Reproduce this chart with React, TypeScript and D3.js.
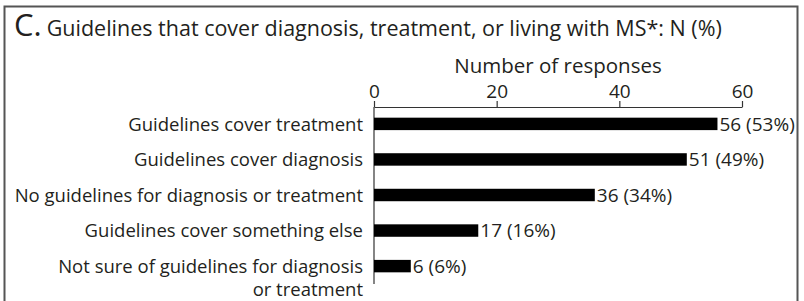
import React, { useEffect, useRef } from 'react';
import * as d3 from 'd3';

const categories = [
  ['Guidelines cover treatment'],
  ['Guidelines cover diagnosis'],
  ['No guidelines for diagnosis or treatment'],
  ['Guidelines cover something else'],
  ['Not sure of guidelines for diagnosis', 'or treatment'],
];
const counts = [56, 51, 36, 17, 6];
const percents = [53, 49, 34, 16, 6];
const xTicks = [0, 20, 40, 60];

const App = () => {
  const svgRef = useRef<SVGSVGElement | null>(null);

  useEffect(() => {
    const width = 804;
    const height = 301;
    const margin = { top: 107, left: 374, right: 62 };
    const font = "'Open Sans', sans-serif";
    const textColor = '#231f20';

    const svg = d3.select(svgRef.current);
    svg.selectAll('*').remove();
    svg.attr('width', width).attr('height', height);

    // frame
    svg.append('path')
      .attr('d', `M4.5,${height} V6.5 H797.5 V${height}`)
      .attr('fill', 'none')
      .attr('stroke', '#555')
      .attr('stroke-width', 2);

    const title = svg.append('text')
      .attr('x', 14)
      .attr('y', 36)
      .attr('font-family', font)
      .attr('fill', textColor);
    title.append('tspan').attr('font-size', 31).text('C.');
    title.append('tspan').attr('font-size', 21.5).attr('dx', 5)
      .text('Guidelines that cover diagnosis, treatment, or living with MS*: N (%)');

    const x = d3.scaleLinear().domain([0, 60]).range([margin.left, width - margin.right]);
    const y = d3.scaleBand()
      .domain(categories.map((_, i) => String(i)))
      .range([107, 283])
      .paddingInner(0.65)
      .paddingOuter(0.3);

    const axis = svg.append('g')
      .attr('transform', `translate(0,${margin.top})`)
      .call(d3.axisTop(x).tickValues(xTicks).tickSize(6).tickSizeOuter(0).tickPadding(3));
    axis.select('.domain').attr('stroke', '#333').attr('stroke-width', 1.2);
    axis.selectAll('.tick line').attr('stroke', '#333').attr('stroke-width', 1.2);
    axis.selectAll('.tick text')
      .attr('font-family', font)
      .attr('font-size', 19)
      .attr('fill', textColor);

    svg.append('text')
      .attr('x', (x(0) + x(60)) / 2)
      .attr('y', 73)
      .attr('text-anchor', 'middle')
      .attr('font-family', font)
      .attr('font-size', 20.5)
      .attr('fill', textColor)
      .text('Number of responses');

    // y axis line
    svg.append('line')
      .attr('x1', x(0)).attr('x2', x(0))
      .attr('y1', margin.top).attr('y2', 284)
      .attr('stroke', '#333')
      .attr('stroke-width', 1.2);

    svg.selectAll('.bar')
      .data(counts)
      .enter()
      .append('rect')
      .attr('class', 'bar')
      .attr('x', x(0))
      .attr('y', (d, i) => y(String(i))!)
      .attr('width', d => x(d) - x(0))
      .attr('height', y.bandwidth())
      .attr('fill', '#000');

    svg.selectAll('.val')
      .data(counts)
      .enter()
      .append('text')
      .attr('class', 'val')
      .attr('x', d => x(d) + 2)
      .attr('y', (d, i) => y(String(i))! + y.bandwidth() / 2)
      .attr('dy', '0.36em')
      .attr('font-family', font)
      .attr('font-size', 19)
      .attr('fill', textColor)
      .text((d, i) => `${d} (${percents[i]}%)`);

    const labels = svg.selectAll('.lab')
      .data(categories)
      .enter()
      .append('text')
      .attr('class', 'lab')
      .attr('text-anchor', 'end')
      .attr('font-family', font)
      .attr('font-size', 18.5)
      .attr('fill', textColor)
      .attr('y', (d, i) => y(String(i))! + y.bandwidth() / 2);
    labels.selectAll('tspan')
      .data(d => d)
      .enter()
      .append('tspan')
      .attr('x', 363)
      .attr('dy', (d, j) => (j === 0 ? '0.36em' : '23px'))
      .text(d => d);
  }, []);

  return <svg ref={svgRef} style={{ display: 'block', position: 'absolute', left: 0, top: 0 }}></svg>;
};

export default App;
